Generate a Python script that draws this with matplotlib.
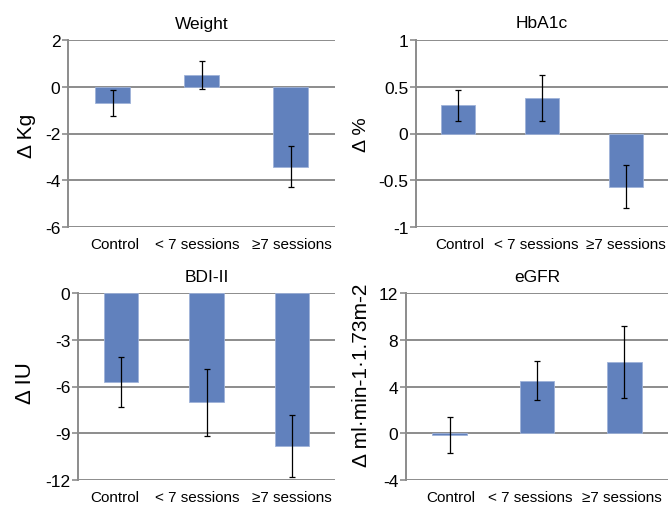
import numpy as np
import matplotlib
matplotlib.use("Agg")
import matplotlib.pyplot as plt
from matplotlib.ticker import FormatStrFormatter
from matplotlib.transforms import ScaledTranslation

plt.rcParams['font.family'] = ['Liberation Sans', 'DejaVu Sans']
plt.rcParams['axes.unicode_minus'] = False

# data
groups = ["Control", "< 7 sessions", "\u22657 sessions"]

weight = [-0.68, 0.50, -3.42]
weight_err = [0.55, 0.60, 0.87]

hba1c = [0.30, 0.38, -0.57]
hba1c_err = [0.17, 0.245, 0.23]

bdi = [-5.7, -7.0, -9.8]
bdi_err = [1.6, 2.15, 2.0]

egfr = [-0.15, 4.5, 6.1]
egfr_err = [1.5, 1.65, 3.1]

W, H = 669, 506
fig = plt.figure(figsize=(W / 100, H / 100), dpi=100)

bar_col = "#6181BD"
grid_col = "#8c8c8c"


def panel(box, vals, errs, title, ylabel, yticks, ylsize, lab_xy, lab_dx):
    left, right, top, bottom = box
    ax = fig.add_axes([left / W, (H - bottom) / H, (right - left) / W, (bottom - top) / H])
    x = np.arange(len(groups))
    ax.bar(x, vals, width=0.4, color=bar_col, edgecolor="#9fb3d9", linewidth=0.6, zorder=2)
    ax.errorbar(x, vals, yerr=errs, fmt="none", ecolor="black", elinewidth=0.9,
                capsize=2.5, capthick=0.9, zorder=3)
    ax.set_xlim(-0.5, 2.5)
    ax.set_ylim(yticks[0], yticks[-1])
    ax.set_yticks(yticks)
    ax.yaxis.set_major_formatter(FormatStrFormatter("%g"))
    ax.yaxis.grid(True, color=grid_col, linewidth=1.4, zorder=0)
    ax.set_axisbelow(True)
    for s in ["top", "right", "bottom"]:
        ax.spines[s].set_visible(False)
    ax.spines["left"].set_color(grid_col)
    ax.spines["left"].set_linewidth(1.4)
    ax.tick_params(axis="y", length=4, width=1.2, color=grid_col, labelsize=12.5, pad=1.5)
    ax.set_xticks(x)
    ax.set_xticklabels(groups)
    ax.tick_params(axis="x", length=0, labelsize=11, pad=7)
    # nudge category labels sideways like the original
    for lab, dx in zip(ax.get_xticklabels(), lab_dx):
        lab.set_transform(lab.get_transform() + ScaledTranslation(dx / 100, 0, fig.dpi_scale_trans))
    ax.set_title(title, fontsize=12.5, pad=9)
    ax.set_ylabel(ylabel, fontsize=ylsize)
    lx, ly = lab_xy
    ax.yaxis.set_label_coords((lx - left) / (right - left), (bottom - ly) / (bottom - top))
    return ax


panel((68, 335, 41, 228), weight, weight_err, "Weight", "\u0394 Kg",
      [-6, -4, -2, 0, 2], 15, (36, 136), [2.5, -4.5, 1.5])
panel((416, 668, 41, 228), hba1c, hba1c_err, "HbA1c", "\u0394 %",
      [-1, -0.5, 0, 0.5, 1], 14, (370, 135), [2, -6, 0])
panel((78, 335, 294, 481), bdi, bdi_err, "BDI-II", "\u0394 IU",
      [-12, -9, -6, -3, 0], 16, (36, 383), [-6, -9, 0])
panel((406, 668, 294, 481), egfr, egfr_err, "eGFR", "\u0394 ml\u00b7min-1\u00b71.73m-2",
      [-4, 0, 4, 8, 12], 15, (371, 375), [1, -7, -2])

fig.savefig("out.png", dpi=100)
